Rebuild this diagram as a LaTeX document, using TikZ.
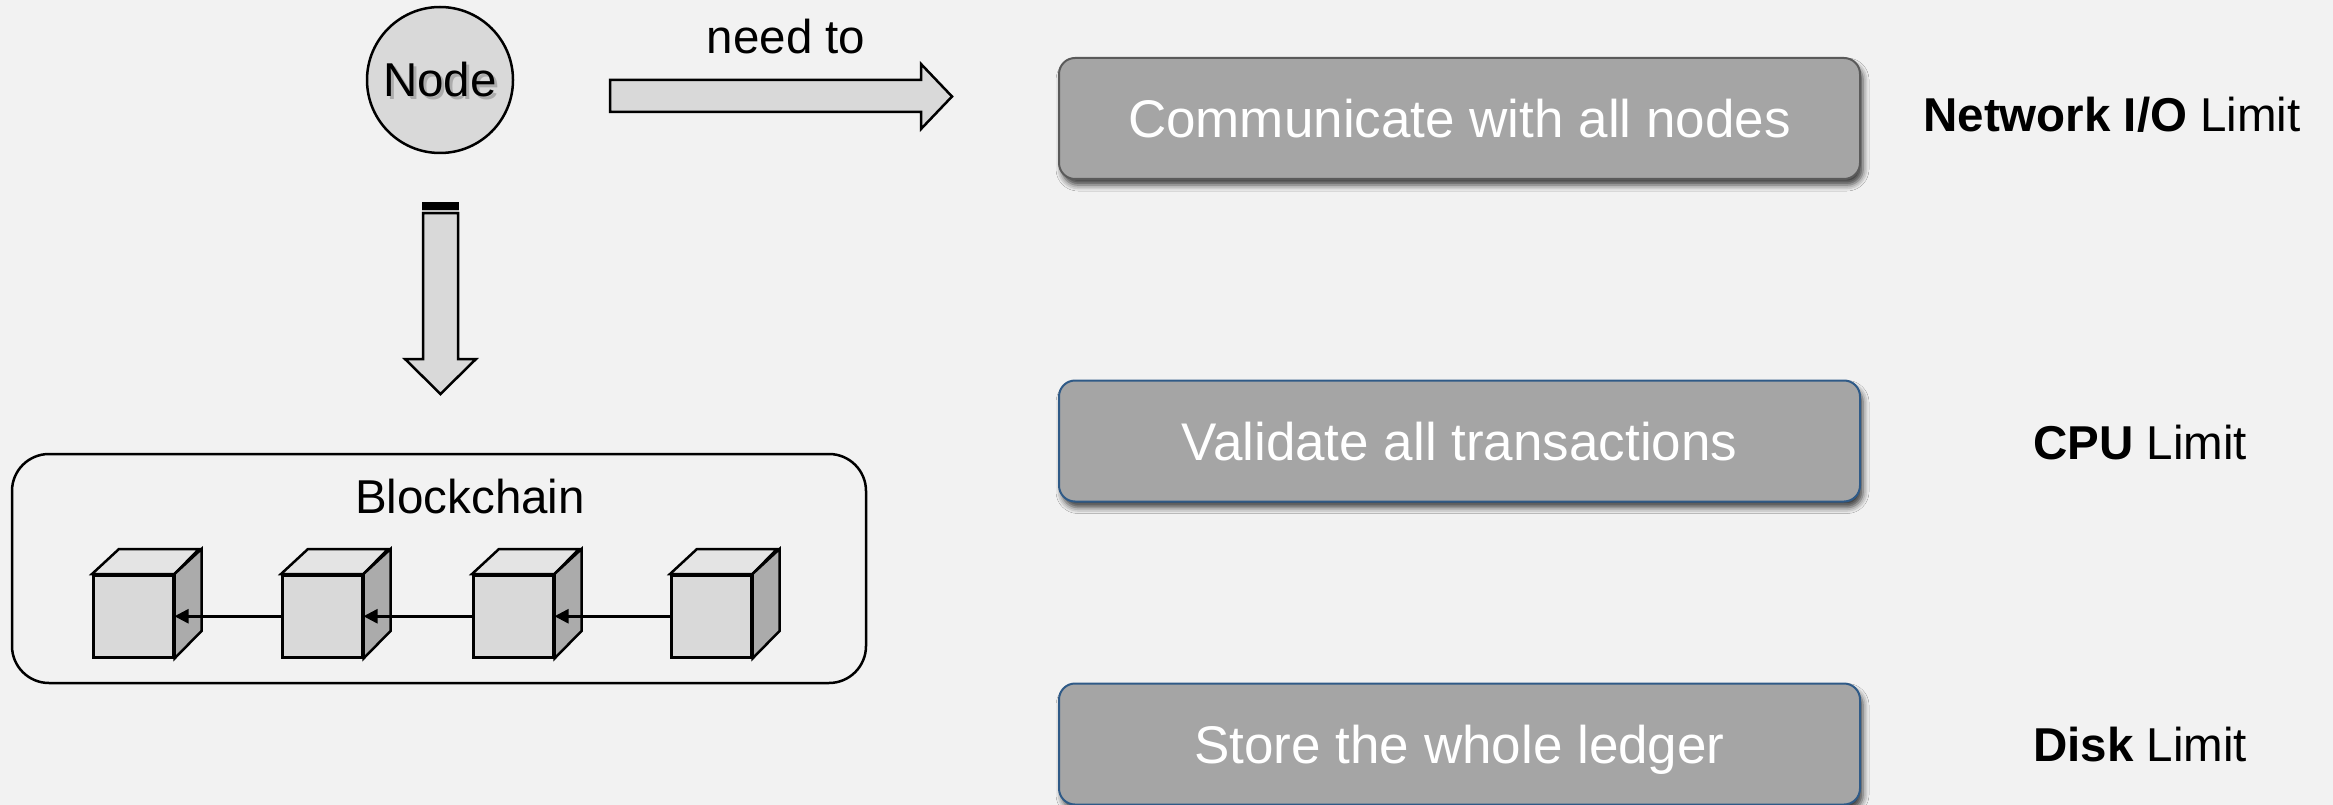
\documentclass[tikz,border=0pt]{standalone}
\usepackage{fontspec}
\setmainfont{Liberation Sans}
\usetikzlibrary{arrows.meta,shadows.blur,calc}
\definecolor{bg}{HTML}{F2F2F2}
\definecolor{lightfill}{HTML}{D9D9D9}
\definecolor{topface}{HTML}{E4E4E4}
\definecolor{sideface}{HTML}{ABABAB}
\definecolor{boxfill}{HTML}{A5A5A5}
\definecolor{boxgray}{HTML}{5A5A5A}
\definecolor{boxblue}{HTML}{2F5A87}

\tikzset{
  labelfont/.style={font=\fontsize{47.5}{57}\selectfont, text height=34pt, text depth=0pt, inner sep=0pt},
  taskbox/.style={draw=boxgray, line width=2pt, fill=boxfill, rounded corners=16pt,
    minimum width=801pt, minimum height=121pt, text=white,
    font=\fontsize{53}{63}\selectfont, text height=38pt, text depth=0pt, inner sep=0pt,
    blur shadow={shadow xshift=3pt, shadow yshift=-6pt, shadow blur radius=6pt, shadow opacity=75}},
  blockface/.style={draw=black, line width=2.5pt, fill=lightfill,
    minimum width=80pt, minimum height=82pt, inner sep=0pt},
  blockarrow/.style={draw=black, line width=2.5pt, fill=lightfill, line join=miter},
  link/.style={black, line width=2.5pt, -{Triangle[length=14pt,width=14pt]}},
}

\begin{document}
\begin{tikzpicture}[x=1pt, y=-1pt]
  % canvas
  \useasboundingbox (0,0) rectangle (2333,805);
  \fill[bg] (0,0) rectangle (2333,805);

  % the node
  \node[circle, draw=black, line width=2.5pt, fill=lightfill, minimum size=146pt, inner sep=0pt] (nd) at (440,80) {};
  \node[labelfont, text=black!50, opacity=0.5] at (443,83) {Node};
  \node[labelfont] (ndtext) at (nd) {Node};

  % "need to" block arrow
  \draw[blockarrow] (610,80) -- (921,80) -- (921,64) -- (952,96.5) -- (921,129) -- (921,112) -- (610,112) -- cycle;
  \node[labelfont] (needto) at (786,37) {need to};

  % downward block arrow with a heavy top edge
  \draw[blockarrow] (423,213) -- (458,213) -- (458,359) -- (476,359) -- (440.5,394) -- (405,359) -- (423,359) -- cycle;
  \fill[black] (421.75,202) rectangle (459.25,210);
  \fill[black!25] (421.75,210) rectangle (459.25,211.75);

  % blockchain container
  \draw[black, line width=2.5pt, rounded corners=37pt] (12,454) rectangle (866,683);
  \node[labelfont] (bc) at (470,496) {Blockchain};

  % chain of blocks
  \foreach \i/\x in {1/92, 2/281, 3/472, 4/670} {
    \node[blockface, anchor=north west] (c\i) at (\x,574) {};
    \draw[black, line width=2.5pt, fill=topface, line join=miter]
      (c\i.north west) -- ++(27,-25) -- ++(80,0) -- (c\i.north east) -- cycle;
    \draw[black, line width=2.5pt, fill=sideface, line join=miter]
      (c\i.north east) -- ++(27,-25) -- ++(0,82) -- (c\i.south east) -- cycle;
  }
  \draw[link] (c2.west) -- (c1.east);
  \draw[link] (c3.west) -- (c2.east);
  \draw[link] (c4.west) -- (c3.east);

  % requirements
  \node[taskbox] (t1) at (1459.5,118.5) {Communicate with all nodes};
  \node[taskbox, draw=boxblue] (t2) at (1459.5,441) {Validate all transactions};
  \node[taskbox, draw=boxblue] (t3) at (1459.5,744) {Store the whole ledger};

  % resulting limits
  \node[labelfont] (l1) at (2112,115) {\textbf{Network I/O} Limit};
  \node[labelfont] (l2) at (2140,442) {\textbf{CPU} Limit};
  \node[labelfont] (l3) at (2140,744) {\textbf{Disk} Limit};
\end{tikzpicture}
\end{document}
